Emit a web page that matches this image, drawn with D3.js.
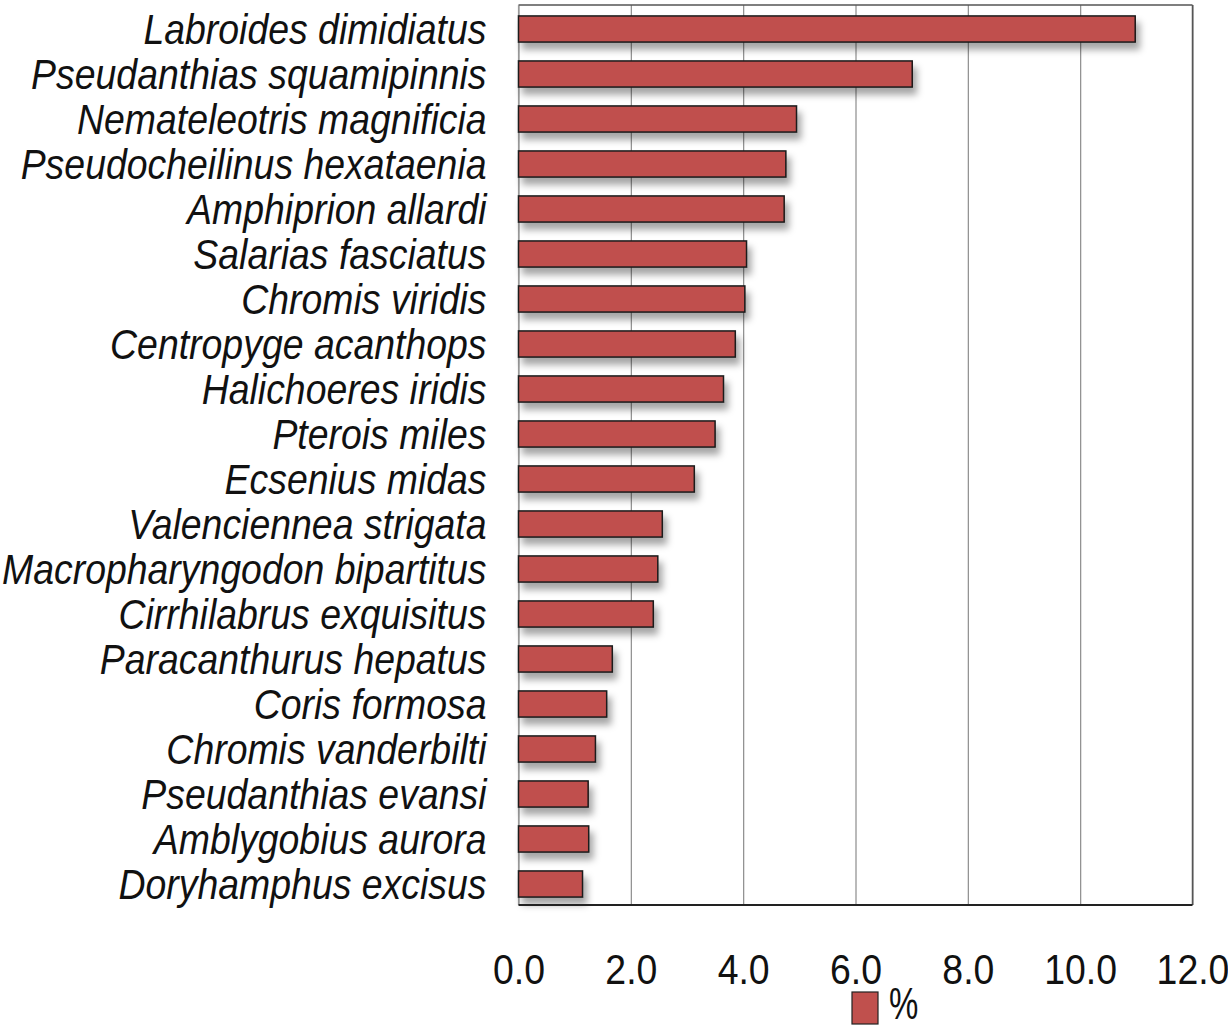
<!DOCTYPE html>
<html>
<head>
<meta charset="utf-8">
<script src="https://cdn.jsdelivr.net/npm/d3@7"></script>
<style>
  body { margin: 0; background: #fff; }
  svg { display: block; }
</style>
</head>
<body>
<div id="graph"></div>
<script>
const species = [
    "Labroides dimidiatus", "Pseudanthias squamipinnis", "Nemateleotris magnificia",
    "Pseudocheilinus hexataenia", "Amphiprion allardi", "Salarias fasciatus",
    "Chromis viridis", "Centropyge acanthops", "Halichoeres iridis", "Pterois miles",
    "Ecsenius midas", "Valenciennea strigata", "Macropharyngodon bipartitus",
    "Cirrhilabrus exquisitus", "Paracanthurus hepatus", "Coris formosa",
    "Chromis vanderbilti", "Pseudanthias evansi", "Amblygobius aurora", "Doryhamphus excisus"
];
const percent = [
    10.98, 7.01, 4.95, 4.76, 4.73, 4.06, 4.03, 3.86, 3.65, 3.50,
    3.13, 2.56, 2.48, 2.40, 1.67, 1.57, 1.37, 1.24, 1.25, 1.14
];
const tickValues = [0, 2, 4, 6, 8, 10, 12];
const seriesName = "%";

const fullwidth = 1228;
const fullheight = 1028;
const plotLeft = 518.5, plotRight = 1192.5, plotTop = 5, plotBottom = 905;
const barColor = "#c0504d";
const labelSquash = 0.87;   // the original text is horizontally condensed
const tickSquash = 0.87;

const data = species.map((s, i) => ({ name: s, value: percent[i] }));

const svg = d3.select("#graph").append("svg")
    .attr("width", fullwidth)
    .attr("height", fullheight);

// drop shadow for bars
const defs = svg.append("defs");
defs.append("filter")
    .attr("id", "shadow")
    .attr("x", "-10%").attr("y", "-30%")
    .attr("width", "130%").attr("height", "190%")
    .append("feDropShadow")
    .attr("dx", 4).attr("dy", 7)
    .attr("stdDeviation", 3.5)
    .attr("flood-color", "#000")
    .attr("flood-opacity", 0.35);

const x = d3.scaleLinear().domain([0, 12]).range([plotLeft, plotRight]);
const y = d3.scaleBand().domain(species)
    .range([plotTop + 1.5, plotBottom + 1.5])
    .paddingInner(0.42)
    .paddingOuter(0.21);

// gridlines
svg.append("g")
    .attr("transform", `translate(0,${plotBottom})`)
    .call(d3.axisBottom(x).tickValues(tickValues).tickSize(-(plotBottom - plotTop)).tickFormat(""))
    .call(g => g.select(".domain").remove())
    .call(g => g.selectAll("line").attr("stroke", "#8c8c8c").attr("stroke-width", 1.2));

// frame
svg.append("line").attr("x1", plotLeft).attr("x2", plotRight).attr("y1", plotTop).attr("y2", plotTop)
    .attr("stroke", "#555").attr("stroke-width", 1.5);
svg.append("line").attr("x1", plotRight).attr("x2", plotRight).attr("y1", plotTop).attr("y2", plotBottom)
    .attr("stroke", "#555").attr("stroke-width", 1.5);
svg.append("line").attr("x1", plotLeft).attr("x2", plotLeft).attr("y1", plotTop).attr("y2", plotBottom)
    .attr("stroke", "#999").attr("stroke-width", 1.2);

// bars
svg.append("g")
    .selectAll("rect")
    .data(data)
    .enter().append("rect")
    .attr("x", x(0))
    .attr("y", d => y(d.name))
    .attr("width", d => x(d.value) - x(0))
    .attr("height", y.bandwidth())
    .attr("fill", barColor)
    .attr("stroke", "#1a1a1a")
    .attr("stroke-width", 1.5)
    .attr("filter", "url(#shadow)");

// bottom axis line
svg.append("line").attr("x1", plotLeft).attr("x2", plotRight).attr("y1", plotBottom).attr("y2", plotBottom)
    .attr("stroke", "#222").attr("stroke-width", 2);

// category labels
svg.append("g")
    .attr("transform", `translate(${plotLeft},0)`)
    .call(d3.axisLeft(y).tickSize(0).tickPadding(32))
    .call(g => g.select(".domain").remove())
    .call(g => g.selectAll("text")
        .attr("x", -32 / labelSquash)
        .attr("dy", "0.35em")
        .attr("transform", `scale(${labelSquash},1)`)
        .attr("fill", "#111")
        .style("font-family", "'Liberation Sans', Arial, sans-serif")
        .style("font-style", "italic")
        .style("font-size", "43px"));

// value tick labels
svg.append("g")
    .attr("transform", `translate(0,${plotBottom})`)
    .call(d3.axisBottom(x).tickValues(tickValues).tickSize(0).tickPadding(48).tickFormat(d3.format(".1f")))
    .call(g => g.select(".domain").remove())
    .call(g => g.selectAll("text")
        .attr("transform", `scale(${tickSquash},1)`)
        .attr("fill", "#111")
        .style("font-family", "'Liberation Sans', Arial, sans-serif")
        .style("font-size", "43px"));

// legend
const legend = svg.append("g").attr("class", "legend");
legend.append("rect")
    .attr("x", 852).attr("y", 992)
    .attr("width", 26).attr("height", 32)
    .attr("fill", barColor)
    .attr("stroke", "#222").attr("stroke-width", 1.2);
legend.append("g")
    .attr("transform", "translate(889,1019)")
    .append("text")
    .attr("transform", "scale(0.75,1)")
    .attr("fill", "#111")
    .style("font-family", "'Liberation Sans', Arial, sans-serif")
    .style("font-size", "44px")
    .text(seriesName);
</script>
</body>
</html>
